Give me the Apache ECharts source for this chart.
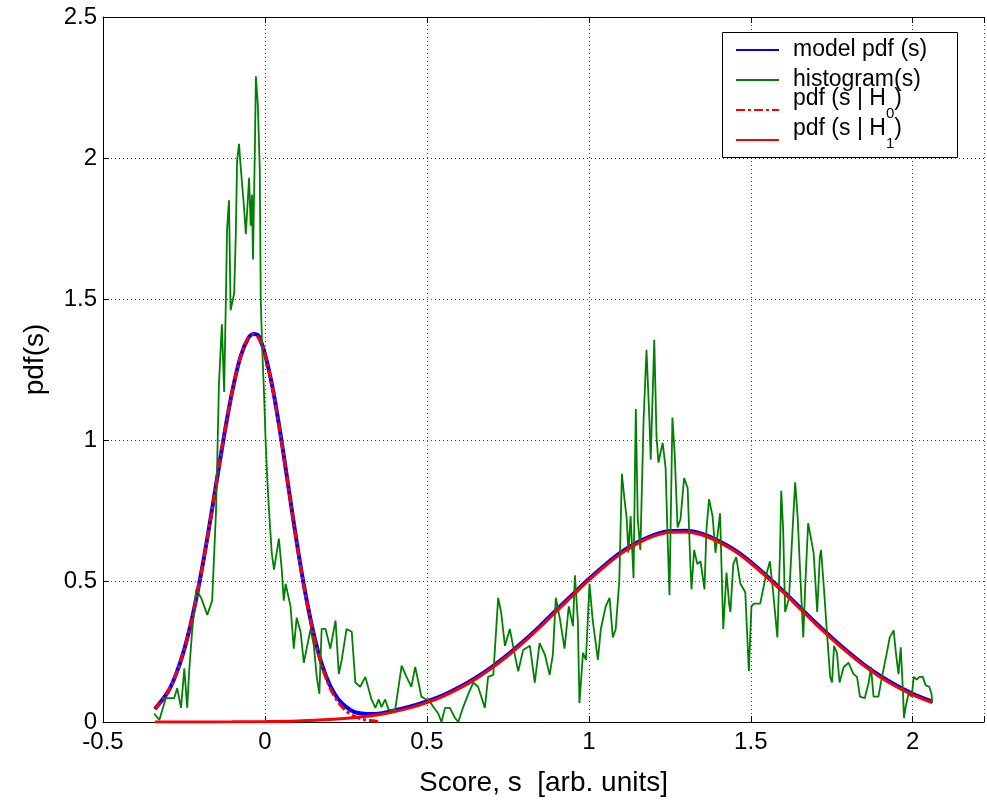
<!DOCTYPE html>
<html>
<head>
<meta charset="utf-8">
<script src="https://cdn.jsdelivr.net/npm/echarts@6/dist/echarts.min.js"></script>
<style>html,body{margin:0;padding:0;background:#fff}#c{width:987px;height:805px}</style>
</head>
<body>
<div id="c"></div>
<script>
const xTickLabels = [-0.5, 0, 0.5, 1, 1.5, 2];
const yTickLabels = [0, 0.5, 1, 1.5, 2, 2.5];
const seriesNames = ['model pdf (s)', 'histogram(s)', 'pdf (s | H0)', 'pdf (s | H1)'];

const modelS = [-0.34,-0.3,-0.275,-0.25,-0.225,-0.2,-0.175,-0.15,-0.125,-0.1,-0.075,-0.05,-0.035,-0.02,0,0.025,0.05,0.075,0.1,0.125,0.15,0.175,0.2,0.225,0.25,0.275,0.3,0.325,0.35,0.4,0.45,0.5,0.55,0.6,0.65,0.7,0.75,0.8,0.85,0.9,0.95,1.0,1.05,1.1,1.15,1.2,1.25,1.3,1.35,1.4,1.45,1.5,1.55,1.6,1.65,1.7,1.75,1.8,1.85,1.9,1.95,2.0,2.06];
const modelV = [0.046,0.106,0.168,0.254,0.368,0.509,0.672,0.848,1.023,1.178,1.297,1.364,1.376,1.370,1.305,1.177,1.006,0.814,0.624,0.455,0.315,0.207,0.132,0.083,0.054,0.036,0.030,0.028,0.029,0.041,0.055,0.073,0.095,0.123,0.156,0.195,0.239,0.288,0.341,0.397,0.452,0.507,0.557,0.602,0.637,0.663,0.677,0.678,0.667,0.643,0.610,0.567,0.517,0.464,0.408,0.352,0.299,0.249,0.203,0.163,0.129,0.100,0.072];

const histS = [-0.342,-0.326,-0.306,-0.280,-0.271,-0.259,-0.249,-0.240,-0.234,-0.225,-0.212,-0.197,-0.178,-0.163,-0.151,-0.148,-0.142,-0.136,-0.133,-0.126,-0.120,-0.117,-0.111,-0.106,-0.095,-0.090,-0.086,-0.080,-0.075,-0.065,-0.059,-0.049,-0.044,-0.040,-0.037,-0.031,-0.028,-0.022,-0.016,-0.013,-0.009,-0.003,0.002,0.006,0.012,0.021,0.028,0.043,0.052,0.058,0.064,0.079,0.089,0.098,0.110,0.120,0.141,0.151,0.160,0.168,0.175,0.187,0.202,0.218,0.228,0.237,0.252,0.268,0.279,0.294,0.310,0.329,0.341,0.351,0.360,0.371,0.382,0.402,0.422,0.437,0.452,0.464,0.474,0.483,0.498,0.505,0.520,0.535,0.545,0.556,0.571,0.587,0.597,0.612,0.628,0.643,0.658,0.679,0.689,0.705,0.720,0.729,0.741,0.756,0.771,0.782,0.797,0.818,0.833,0.848,0.864,0.879,0.889,0.898,0.910,0.925,0.938,0.951,0.957,0.966,0.971,0.982,0.991,1.002,1.012,1.028,1.037,1.052,1.064,1.074,1.083,1.094,1.102,1.110,1.117,1.122,1.129,1.138,1.145,1.151,1.159,1.169,1.178,1.187,1.191,1.202,1.209,1.215,1.228,1.237,1.243,1.249,1.258,1.265,1.274,1.283,1.294,1.305,1.313,1.317,1.325,1.335,1.345,1.357,1.363,1.371,1.382,1.391,1.405,1.415,1.425,1.433,1.437,1.446,1.455,1.468,1.483,1.494,1.502,1.510,1.529,1.545,1.559,1.569,1.582,1.590,1.594,1.600,1.606,1.618,1.628,1.637,1.645,1.652,1.662,1.668,1.677,1.683,1.694,1.705,1.713,1.717,1.726,1.735,1.745,1.751,1.757,1.766,1.774,1.787,1.802,1.817,1.828,1.837,1.852,1.864,1.871,1.879,1.894,1.905,1.920,1.929,1.941,1.948,1.956,1.963,1.969,1.973,1.978,1.987,1.997,2.003,2.012,2.021,2.031,2.040,2.051,2.058,2.060];
const histV = [0.03,0.007,0.085,0.085,0.12,0.05,0.19,0.05,0.18,0.32,0.47,0.44,0.38,0.43,0.75,0.89,1.2,1.34,1.41,1.17,1.54,1.745,1.85,1.46,1.52,1.73,1.99,2.05,1.97,1.83,1.73,1.93,1.76,1.87,1.64,2.04,2.29,2.19,1.96,1.5,1.34,1.17,1.0,0.89,0.76,0.6,0.54,0.65,0.54,0.43,0.49,0.41,0.26,0.37,0.32,0.21,0.33,0.27,0.16,0.1,0.33,0.33,0.26,0.36,0.17,0.22,0.33,0.32,0.14,0.125,0.16,0.08,0.05,0.08,0.053,0.08,0.043,0.043,0.2,0.16,0.125,0.195,0.14,0.09,0.08,0.08,0.053,0.03,0.0,0.05,0.05,0.014,0.0,0.053,0.1,0.14,0.125,0.05,0.16,0.167,0.44,0.39,0.27,0.33,0.24,0.18,0.255,0.27,0.14,0.28,0.24,0.167,0.24,0.44,0.37,0.26,0.41,0.34,0.52,0.36,0.067,0.245,0.22,0.49,0.36,0.22,0.33,0.41,0.44,0.3,0.33,0.5,0.88,0.79,0.72,0.6,0.73,0.51,1.11,0.72,0.61,1.07,1.32,1.07,0.93,1.355,1.01,0.92,0.99,0.9,0.66,0.45,1.08,0.95,0.69,0.72,0.865,0.83,0.57,0.47,0.61,0.56,0.57,0.47,0.68,0.79,0.73,0.6,0.74,0.33,0.53,0.42,0.39,0.56,0.585,0.49,0.46,0.18,0.41,0.42,0.42,0.51,0.57,0.46,0.3,0.6,0.82,0.68,0.39,0.44,0.66,0.85,0.72,0.54,0.3,0.48,0.705,0.705,0.6,0.39,0.585,0.61,0.47,0.32,0.16,0.14,0.27,0.245,0.14,0.195,0.21,0.17,0.16,0.09,0.085,0.14,0.195,0.09,0.09,0.16,0.245,0.3,0.325,0.245,0.17,0.265,0.125,0.014,0.053,0.1,0.09,0.16,0.15,0.16,0.16,0.13,0.125,0.1,0.067];

const h0S = [-0.34,-0.3,-0.275,-0.25,-0.225,-0.2,-0.175,-0.15,-0.125,-0.1,-0.075,-0.05,-0.035,-0.02,0,0.025,0.05,0.075,0.1,0.125,0.15,0.175,0.2,0.225,0.25,0.275,0.3,0.325,0.35];
const h0V = [0.046,0.106,0.168,0.254,0.368,0.509,0.672,0.848,1.023,1.178,1.297,1.364,1.375,1.362,1.303,1.175,1.003,0.811,0.620,0.450,0.309,0.200,0.123,0.072,0.040,0.021,0.010,0.005,0.002];

const h1S = [-0.34,-0.2,-0.1,0,0.1,0.2,0.3,0.35,0.4,0.45,0.5,0.55,0.6,0.65,0.7,0.75,0.8,0.85,0.9,0.95,1.0,1.05,1.1,1.15,1.2,1.25,1.3,1.35,1.4,1.45,1.5,1.55,1.6,1.65,1.7,1.75,1.8,1.85,1.9,1.95,2.0,2.06];
const h1V = [0.0,0.0002,0.0005,0.0014,0.0036,0.0085,0.0184,0.026,0.0369,0.0509,0.0688,0.0913,0.119,0.152,0.191,0.235,0.284,0.337,0.393,0.4485,0.503,0.553,0.598,0.633,0.659,0.673,0.674,0.663,0.639,0.606,0.563,0.513,0.460,0.404,0.348,0.295,0.245,0.199,0.159,0.125,0.0964,0.0688];

const pairs = (xs, ys) => xs.map((x, i) => [x, ys[i]]);
const FONT = "'Liberation Sans', Arial, Helvetica, sans-serif";
const near = (v, arr) => arr.some(t => Math.abs(t - v) < 1e-6);

const chart = echarts.init(document.getElementById('c'), null, {renderer: 'canvas'});
const gridLine = {show: true, lineStyle: {color: '#444', type: [1, 3], width: 1}};
const LH = 46;
const txt = {fontFamily: FONT, fontSize: 23, color: '#000', lineHeight: LH};

chart.setOption({
  animation: false,
  backgroundColor: '#fff',
  grid: {left: 103, top: 17, width: 884, height: 705, containLabel: false},
  xAxis: [{
    type: 'value', min: -0.5, max: 2.22, interval: 0.5,
    position: 'bottom',
    name: 'Score, s  [arb. units]', nameLocation: 'middle', nameGap: 47,
    nameTextStyle: {fontFamily: FONT, fontSize: 28, color: '#000'},
    axisLine: {show: true, onZero: false, lineStyle: {color: '#000', width: 1}},
    axisTick: {show: true, inside: true, length: 6, lineStyle: {color: '#000'}},
    axisLabel: {fontFamily: FONT, fontSize: 24, color: '#000', margin: 8,
      formatter: v => near(v, xTickLabels) ? String(Math.round(v * 10) / 10) : ''},
    splitLine: gridLine
  }, {
    type: 'value', min: -0.5, max: 2.22, interval: 0.5, position: 'top',
    axisLine: {show: true, onZero: false, lineStyle: {color: '#000', width: 1}},
    axisTick: {show: true, inside: true, length: 6, lineStyle: {color: '#000'}},
    axisLabel: {show: false}, splitLine: {show: false}
  }],
  yAxis: [{
    type: 'value', min: 0, max: 2.5, interval: 0.5,
    name: 'pdf(s)', nameLocation: 'middle', nameGap: 54, nameRotate: 90,
    nameTextStyle: {fontFamily: FONT, fontSize: 28, color: '#000', padding: [0, 0, 0, 20]},
    axisLine: {show: true, onZero: false, lineStyle: {color: '#000', width: 1}},
    axisTick: {show: true, inside: true, length: 6, lineStyle: {color: '#000'}},
    axisLabel: {fontFamily: FONT, fontSize: 24, color: '#000', margin: 6,
      formatter: v => near(v, yTickLabels) ? String(v) : ''},
    splitLine: gridLine
  }],
  legend: {
    orient: 'vertical', left: 735, top: 27, padding: 0, itemGap: -16,
    itemWidth: 43, itemHeight: 14, selectedMode: false,
    itemStyle: {opacity: 0, borderWidth: 0},
    data: seriesNames,
    textStyle: Object.assign({}, txt, {
      rich: {
        a: Object.assign({}, txt, {verticalAlign: 'middle', padding: [0, 0, 0, 9]}),
        b0: Object.assign({}, txt, {verticalAlign: 'top', padding: [0, 0, 0, 9]}),
        b: Object.assign({}, txt, {verticalAlign: 'top'}),
        sub: {fontFamily: FONT, fontSize: 15, color: '#000', lineHeight: LH, verticalAlign: 'middle', padding: [8, 0, 0, 0]}
      }
    }),
    formatter: name => {
      const m = name.match(/^(.*H)(\d)\)$/);
      if (m) return '{b0|' + m[1] + '}{sub|' + m[2] + '}{b|)}';
      return '{a|' + name + '}';
    }
  },
  graphic: [{
    type: 'rect', left: 722, top: 32, z: 3,
    shape: {width: 235, height: 125},
    style: {fill: '#fff', stroke: '#000', lineWidth: 1}
  }],
  series: [
    {name: seriesNames[0], type: 'line', data: pairs(modelS, modelV), smooth: 0.3, showSymbol: false, symbol: 'none',
     lineStyle: {color: '#0000ff', width: 4}, itemStyle: {color: '#0000ff'}, z: 2},
    {name: seriesNames[1], type: 'line', data: pairs(histS, histV), showSymbol: false, symbol: 'none',
     lineStyle: {color: '#008000', width: 1.8}, itemStyle: {color: '#008000'}, z: 2},
    {name: seriesNames[2], type: 'line', data: pairs(h0S, h0V), smooth: 0.3, showSymbol: false, symbol: 'none',
     lineStyle: {color: '#ff0000', width: 3, type: [9, 3, 3, 3]}, itemStyle: {color: '#ff0000'}, z: 2},
    {name: seriesNames[3], type: 'line', data: pairs(h1S, h1V), smooth: 0.3, showSymbol: false, symbol: 'none',
     lineStyle: {color: '#ff0000', width: 3}, itemStyle: {color: '#ff0000'}, z: 2}
  ]
});
</script>
</body>
</html>
